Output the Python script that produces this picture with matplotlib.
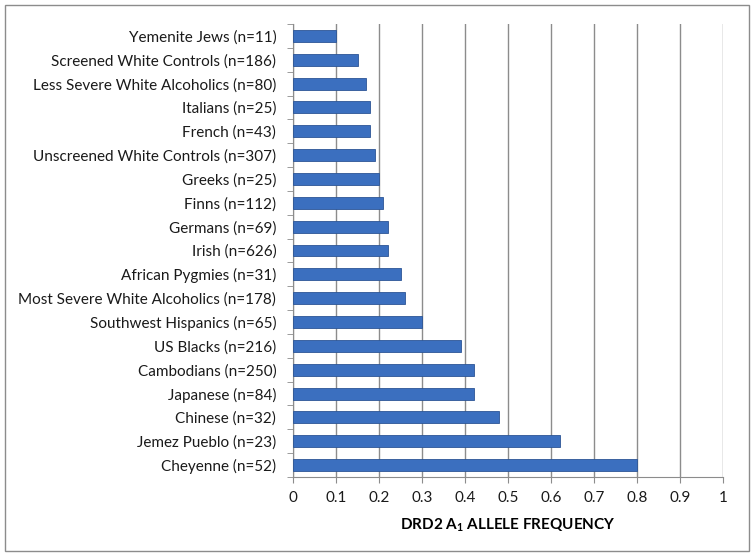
import matplotlib.pyplot as plt
from matplotlib.patches import Rectangle

# populations, listed bottom to top
groups = ['Cheyenne (n=52)', 'Jemez Pueblo (n=23)', 'Chinese (n=32)', 'Japanese (n=84)',
          'Cambodians (n=250)', 'US Blacks (n=216)', 'Southwest Hispanics (n=65)',
          'Most Severe White Alcoholics (n=178)', 'African Pygmies (n=31)', 'Irish (n=626)',
          'Germans (n=69)', 'Finns (n=112)', 'Greeks (n=25)', 'Unscreened White Controls (n=307)',
          'French (n=43)', 'Italians (n=25)', 'Less Severe White Alcoholics (n=80)',
          'Screened White Controls (n=186)', 'Yemenite Jews (n=11)']
freq = [0.80, 0.62, 0.48, 0.42, 0.42, 0.39, 0.30, 0.26, 0.25, 0.22,
        0.22, 0.21, 0.20, 0.19, 0.18, 0.18, 0.17, 0.15, 0.10]
xticks = [0, 0.1, 0.2, 0.3, 0.4, 0.5, 0.6, 0.7, 0.8, 0.9, 1]
xticklabels = ['0', '0.1', '0.2', '0.3', '0.4', '0.5', '0.6', '0.7', '0.8', '0.9', '1']

plt.rcParams['font.family'] = ['Lato', 'DejaVu Sans']
plt.rcParams['text.color'] = '#1a1a1a'

fig = plt.figure(figsize=(7.54, 5.57), dpi=100)
ax = fig.add_axes([0.3886, 0.1436, 0.5703, 0.8133])

# outer chart border
fig.patches.append(Rectangle((0.0066, 0.0108), 0.987, 0.980, transform=fig.transFigure,
                             fill=False, edgecolor='#8c8c8c', linewidth=1.0))

ypos = range(len(groups))
ax.barh(ypos, freq, height=0.5, color='#3b6fbf', edgecolor='#2c5596', linewidth=0.6, zorder=3)

ax.set_xlim(0, 1)
ax.set_ylim(-0.5, len(groups) - 0.5)
ax.set_xticks(xticks)
ax.set_xticklabels(xticklabels, fontsize=11, color='#1a1a1a')
ax.set_yticks(list(ypos))
ax.set_yticklabels(groups, fontsize=11, color='#1a1a1a')
ax.set_yticks([i - 0.5 for i in range(len(groups) + 1)], minor=True)
ax.tick_params(axis='y', which='major', length=0, pad=12)
ax.tick_params(axis='y', which='minor', length=4, color='#8c8c8c')
ax.tick_params(axis='x', length=4, color='#8c8c8c', pad=6)

ax.grid(axis='x', color='#8c8c8c', linewidth=1.0, zorder=0)
for s in ['top', 'right']:
    ax.spines[s].set_visible(False)
for s in ['left', 'bottom']:
    ax.spines[s].set_color('#8c8c8c')

ax.set_xlabel('DRD2 A$_\\mathregular{1}$ ALLELE FREQUENCY', fontsize=11, fontweight='bold', labelpad=8)

fig.savefig('out.png', dpi=100)
